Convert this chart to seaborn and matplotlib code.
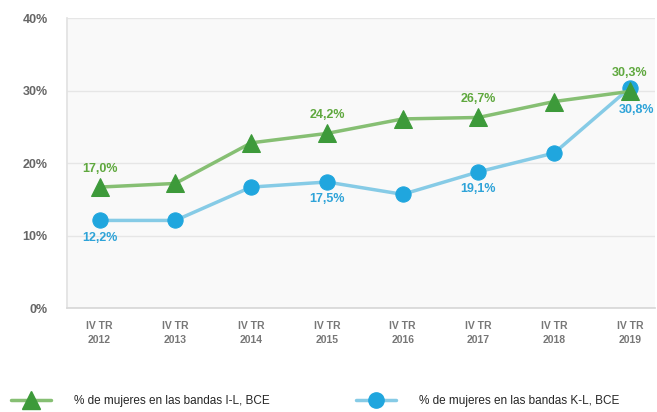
import numpy as np
import pandas as pd
import matplotlib
matplotlib.use("Agg")
import matplotlib.pyplot as plt
import seaborn as sns
from matplotlib.lines import Line2D

categories = ["IV TR\n2012", "IV TR\n2013", "IV TR\n2014", "IV TR\n2015",
              "IV TR\n2016", "IV TR\n2017", "IV TR\n2018", "IV TR\n2019"]
green_vals = [16.7, 17.2, 22.8, 24.1, 26.1, 26.3, 28.5, 29.9]
blue_vals = [12.1, 12.1, 16.7, 17.4, 15.7, 18.8, 21.4, 30.4]
green_labels = {0: "17,0%", 3: "24,2%", 5: "26,7%", 7: "30,3%"}
blue_labels = {0: "12,2%", 3: "17,5%", 5: "19,1%", 7: "30,8%"}
yticks = [0, 10, 20, 30, 40]
green_name = "% de mujeres en las bandas I-L, BCE"
blue_name = "% de mujeres en las bandas K-L, BCE"

GREEN_LINE = "#86bf73"
GREEN_MK = "#3d9a3a"
GREEN_TXT = "#5fa83e"
BLUE_LINE = "#86cbe6"
BLUE_MK = "#20a6de"
BLUE_TXT = "#2ea3d8"

sns.set_theme(style="white")
plt.rcParams['font.family'] = ['Arial', 'Liberation Sans', 'DejaVu Sans']

df = pd.DataFrame({
    "x": list(range(len(categories))) * 2,
    "val": green_vals + blue_vals,
    "serie": [green_name] * len(categories) + [blue_name] * len(categories),
})

fig = plt.figure(figsize=(6.57, 4.12), dpi=100)
ax = fig.add_axes([0.102, 0.252, 0.895, 0.704])
ax.set_facecolor("#f9f9f9")

sns.lineplot(data=df[df.serie == blue_name], x="x", y="val", ax=ax,
             color=BLUE_LINE, lw=2.5, marker="o", markersize=11,
             markerfacecolor=BLUE_MK, markeredgecolor=BLUE_MK, legend=False, zorder=3)
sns.lineplot(data=df[df.serie == green_name], x="x", y="val", ax=ax,
             color=GREEN_LINE, lw=2.5, marker="^", markersize=13,
             markerfacecolor=GREEN_MK, markeredgecolor=GREEN_MK, legend=False, zorder=4)

ax.set_xlim(-0.43, 7.33)
ax.set_ylim(0, 40)
ax.set_yticks(yticks)
ax.set_yticklabels([f"{v}%" for v in yticks], fontsize=9, color="#666666", fontweight="bold")
ax.set_xticks(range(len(categories)))
ax.set_xticklabels(categories, fontsize=7.5, color="#777777", fontweight="bold", linespacing=1.6)
ax.tick_params(axis="x", length=0, pad=9)
ax.tick_params(axis="y", length=0, pad=14)
ax.yaxis.grid(True, color="#e6e6e6", lw=1)
ax.set_xlabel("")
ax.set_ylabel("")
for s in ["top", "right"]:
    ax.spines[s].set_visible(False)
ax.spines["left"].set_color("#e2e2e2")
ax.spines["bottom"].set_color("#d8d8d8")

for i, t in green_labels.items():
    ax.annotate(t, (i, green_vals[i]), xytext=(0, 9), textcoords="offset points",
                ha="center", va="bottom", fontsize=9, fontweight="bold", color=GREEN_TXT,
                zorder=5)
for i, t in blue_labels.items():
    dx = 0 if i != 7 else 5
    dy = -8 if i != 7 else -12
    ax.annotate(t, (i, blue_vals[i]), xytext=(dx, dy), textcoords="offset points",
                ha="center", va="top", fontsize=9, fontweight="bold", color=BLUE_TXT,
                zorder=5)

handles = [
    Line2D([0], [0], color=GREEN_LINE, lw=2.5, marker="^", markersize=13,
           markerfacecolor=GREEN_MK, markeredgecolor=GREEN_MK),
    Line2D([0], [0], color=BLUE_LINE, lw=2.5, marker="o", markersize=11,
           markerfacecolor=BLUE_MK, markeredgecolor=BLUE_MK),
]
fig.legend(handles[:1], [green_name], loc="center left", bbox_to_anchor=(0.0, 0.027),
           frameon=False, fontsize=8.5, handlelength=3.4, handletextpad=2.0)
fig.legend(handles[1:], [blue_name], loc="center left", bbox_to_anchor=(0.525, 0.027),
           frameon=False, fontsize=8.5, handlelength=3.4, handletextpad=2.0)

fig.savefig("out.png", dpi=100)
